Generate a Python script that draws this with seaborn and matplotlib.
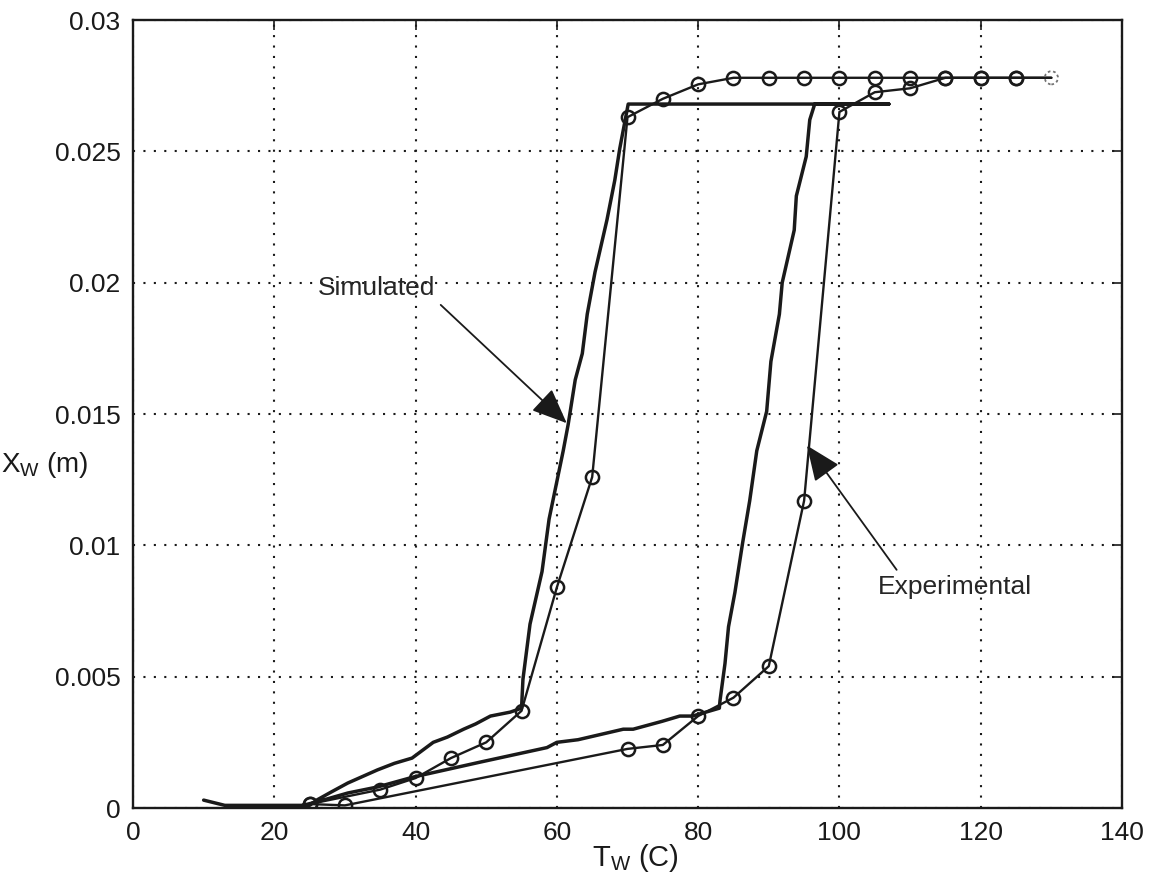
import numpy as np
import pandas as pd
import seaborn as sns
import matplotlib
matplotlib.use('Agg')
import matplotlib.pyplot as plt

#========================================================================================================
# Data
#========================================================================================================

#Simulated loop (no markers)
sim_T = [10, 13, 25, 26, 28, 30.4, 32.5, 34.6, 37, 39.5, 41, 42.5, 44.5, 46.8, 48.5, 50.6, 53.4, 55,
         55.2, 56.2, 57.9, 58.9, 60.9, 61.6, 62.6, 63.6, 64.3, 65.4, 67.1, 68.2, 68.9, 70.1,
         107, 96.5,
         95.8, 95.3, 93.9, 93.6, 91.9, 91.5, 90.3, 89.7, 88.3, 87.3, 86.3, 85.2, 84.3, 83.8, 83.1, 83.0,
         79.2, 77.4, 74.9, 70.8, 69.4, 63, 60, 58.6, 49.2, 39.7, 34.6, 30.4, 26, 24]
sim_X = [0.0003, 0.0001, 0.0001, 0.0003, 0.0006, 0.00095, 0.0012, 0.00145, 0.0017, 0.0019, 0.0022, 0.0025,
         0.0027, 0.0030, 0.0032, 0.0035, 0.00365, 0.0038,
         0.0049, 0.0070, 0.0090, 0.0110, 0.0136, 0.0146, 0.0163, 0.0173, 0.0188, 0.0204, 0.0224, 0.0239,
         0.0251, 0.0268,
         0.0268, 0.0268,
         0.0262, 0.0248, 0.0233, 0.0220, 0.0200, 0.0188, 0.0170, 0.0151, 0.0136, 0.0117, 0.0101, 0.0082,
         0.0069, 0.0055, 0.0041, 0.0038,
         0.0035, 0.0035, 0.0033, 0.0030, 0.0030, 0.0026, 0.0025, 0.0023, 0.00175, 0.00118, 0.0008,
         0.00057, 0.00023, 0.0001]

#Experimental heating (circles)
heat_T = [25, 30, 70, 75, 80, 85, 90, 95, 100, 105, 110, 115, 120, 125, 130]
heat_X = [0.00015, 0.0001, 0.00225, 0.0024, 0.0035, 0.0042, 0.0054, 0.0117, 0.0265, 0.02725, 0.0274,
          0.0278, 0.0278, 0.0278, 0.0278]

#Experimental cooling (circles)
cool_T = [130, 125, 120, 115, 110, 105, 100, 95, 90, 85, 80, 75, 70, 65, 60, 55, 50, 45, 40, 35, 25]
cool_X = [0.0278, 0.0278, 0.0278, 0.0278, 0.0278, 0.0278, 0.0278, 0.0278, 0.0278, 0.0278, 0.02755,
          0.0270, 0.0263, 0.0126, 0.0084, 0.0037, 0.0025, 0.0019, 0.00114, 0.0007, 0.00015]

#Last (faint) measurement
last_T = [130]
last_X = [0.0278]

xticks = [0, 20, 40, 60, 80, 100, 120, 140]
yticks = [0, 0.005, 0.01, 0.015, 0.02, 0.025, 0.03]
ytick_labels = ['0', '0.005', '0.01', '0.015', '0.02', '0.025', '0.03']

#========================================================================================================
# Plot
#========================================================================================================

sns.set_theme(style='white')
plt.rcParams['font.family'] = ['Liberation Sans', 'DejaVu Sans']
plt.rcParams['mathtext.fontset'] = 'custom'
plt.rcParams['mathtext.rm'] = 'Liberation Sans'
plt.rcParams['mathtext.it'] = 'Liberation Sans:italic'

fig = plt.figure(figsize=(11.49, 8.88), dpi=100)
ax = fig.add_axes([133/1149, 80/888, 989/1149, 788/888])

sim_df = pd.DataFrame({'T': sim_T, 'X': sim_X})
heat_df = pd.DataFrame({'T': heat_T, 'X': heat_X})
cool_df = pd.DataFrame({'T': cool_T, 'X': cool_X})

sns.lineplot(data=sim_df, x='T', y='X', sort=False, estimator=None, color='k', lw=2.5, ax=ax)

circ = dict(marker='o', markersize=9.5, markerfacecolor='none', markeredgecolor='k', markeredgewidth=1.8)
sns.lineplot(data=heat_df, x='T', y='X', sort=False, estimator=None, color='k', lw=1.7, ax=ax,
             markevery=list(range(len(heat_T) - 1)), **circ)
sns.lineplot(data=cool_df, x='T', y='X', sort=False, estimator=None, color='k', lw=1.7, ax=ax,
             markevery=list(range(1, len(cool_T))), **circ)
ax.scatter(last_T, last_X, s=90, facecolors='none', edgecolors='0.45', linewidths=1.3,
           linestyles=(0, (1.5, 1.5)), zorder=5)

#Annotations
arrow = dict(arrowstyle='-|>,head_length=1.0,head_width=0.42', color='k', lw=1.3,
             mutation_scale=22, shrinkA=2, shrinkB=0)
ax.annotate('Simulated', xy=(61.4, 0.01465), xytext=(34.5, 0.0198), ha='center', va='center',
            fontsize=19, arrowprops=dict(relpos=(1.0, 0.0), **arrow))
ax.annotate('Experimental', xy=(95.4, 0.0138), xytext=(116.3, 0.0084), ha='center', va='center',
            fontsize=19, arrowprops=dict(relpos=(0.15, 1.0), **arrow))

#Axes formatting
ax.set_xlim(0, 140)
ax.set_ylim(0, 0.03)
ax.set_xticks(xticks)
ax.set_yticks(yticks)
ax.set_yticklabels(ytick_labels)
ax.tick_params(direction='in', top=True, right=True, length=7, width=1.2, labelsize=19,
               colors='k', pad=9)
ax.grid(True, color='k', linestyle=(0, (1, 4)), linewidth=1.5)
ax.set_axisbelow(True)
for s in ax.spines.values():
    s.set_color('k')
    s.set_linewidth(1.7)

ax.set_xlabel(r'T$_\mathrm{W}$ (C)', fontsize=21, color='k')
ax.set_ylabel(r'X$_\mathrm{W}$ (m)', fontsize=20, color='k', rotation=0, ha='center', va='center')
ax.xaxis.set_label_coords(0.508, -0.043)
ax.yaxis.set_label_coords(-0.089, 0.435)

plt.savefig('out.png', dpi=100)
plt.close()
